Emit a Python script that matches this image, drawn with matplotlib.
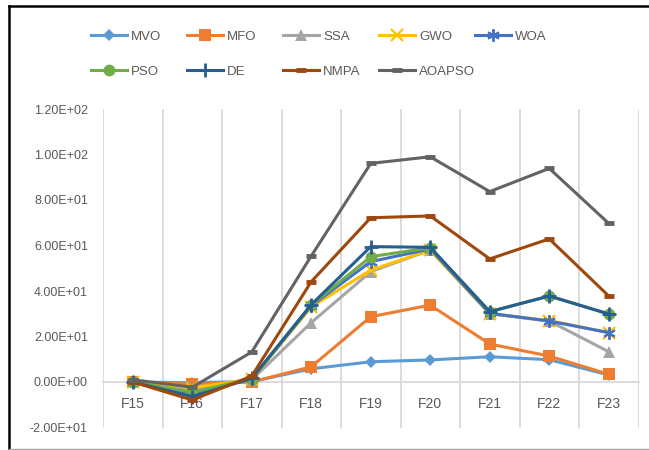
import matplotlib
matplotlib.use("Agg")
import matplotlib.pyplot as plt
from matplotlib.lines import Line2D
from matplotlib.ticker import FuncFormatter
import numpy as np

plt.rcParams['font.family'] = ['Liberation Sans', 'DejaVu Sans']

categories = ['F15', 'F16', 'F17', 'F18', 'F19', 'F20', 'F21', 'F22', 'F23']

MVO = [0.0, -0.3, 0.2, 5.8, 8.9, 9.7, 11.1, 9.8, 3.1]
MFO = [0.0, -1.0, 0.0, 6.7, 28.7, 33.8, 16.7, 11.4, 3.4]
SSA = [0.0, -3.0, 1.0, 26.1, 48.5, 58.0, 30.0, 26.8, 13.3]
GWO = [0.0, -2.5, 1.2, 33.0, 49.2, 58.0, 30.0, 27.0, 21.7]
WOA = [0.0, -5.0, 1.4, 33.5, 52.9, 58.5, 30.2, 26.8, 21.7]
PSO = [0.0, -4.5, 1.5, 33.8, 55.1, 59.0, 30.9, 37.8, 29.9]
DE = [0.0, -6.4, 1.6, 34.0, 59.5, 59.2, 30.9, 37.8, 29.9]
NMPA = [0.0, -7.9, 2.6, 44.1, 72.2, 73.0, 54.1, 62.9, 37.8]
AOAPSO = [1.0, -2.3, 13.2, 55.4, 96.1, 99.0, 83.7, 93.9, 69.7]

series = [('MVO', MVO), ('MFO', MFO), ('SSA', SSA), ('GWO', GWO), ('WOA', WOA),
          ('PSO', PSO), ('DE', DE), ('NMPA', NMPA), ('AOAPSO', AOAPSO)]

# office-style colours and markers per series
styles = {
    'MVO':    dict(color='#5B9BD5', marker='D', ms=6.5, mew=0),
    'MFO':    dict(color='#ED7D31', marker='s', ms=8.5, mew=0),
    'SSA':    dict(color='#A5A5A5', marker='^', ms=9, mew=0),
    'GWO':    dict(color='#FFC000', marker='x', ms=8, mew=1.6),
    'WOA':    dict(color='#4472C4', marker=(6, 2, 0), ms=9, mew=1.4),
    'PSO':    dict(color='#70AD47', marker='o', ms=8.5, mew=0),
    'DE':     dict(color='#255E91', marker='+', ms=10, mew=2),
    'NMPA':   dict(color='#9E480E', marker='_', ms=7, mew=3.5),
    'AOAPSO': dict(color='#636363', marker='_', ms=7, mew=3.5),
}

W, H = 649, 450
fig = plt.figure(figsize=(W / 100, H / 100), dpi=100)
ax = fig.add_axes([103 / W, 1 - 427.5 / H, (638.5 - 103) / W, (427.5 - 109) / H])

x = np.arange(len(categories))
lines = []
for name, vals in series:
    st = styles[name]
    ln, = ax.plot(x, vals, color=st['color'], lw=2.2, marker=st['marker'],
                  ms=st['ms'], mew=st['mew'], mec=st['color'], mfc=st['color'],
                  label=name, solid_joinstyle='miter')
    lines.append(ln)

ax.set_xlim(-0.5, len(categories) - 0.5)
ax.set_ylim(-20, 120)
ax.set_yticks(np.arange(-20, 121, 20))
ax.yaxis.set_major_formatter(FuncFormatter(lambda v, p: f"{v:.2E}"))
ax.set_xticks(x)
ax.set_xticklabels(categories)
ax.set_xticks(np.arange(-0.5, len(categories), 1), minor=True)
ax.grid(which='minor', axis='x', color='#D9D9D9', lw=1.3)
ax.set_axisbelow(True)

for s in ['top', 'right', 'left']:
    ax.spines[s].set_visible(False)
ax.spines['bottom'].set_position(('data', 0))
ax.spines['bottom'].set_color('#D9D9D9')
ax.spines['bottom'].set_linewidth(1.3)
ax.spines['bottom'].set_zorder(0.5)

ax.tick_params(which='both', length=0)
ax.tick_params(axis='y', pad=10.8, labelsize=9, labelcolor='#595959')
ax.tick_params(axis='x', pad=11, labelsize=10, labelcolor='#595959')

# legend entries laid out on a fixed 5-column grid
for i, ln in enumerate(lines):
    row, col = divmod(i, 5)
    lx = 91 + 96 * col
    ly = 37 + 35 * row
    fig.legend(handles=[ln], loc='center left', bbox_to_anchor=(lx / W, 1 - ly / H),
               frameon=False, borderpad=0, borderaxespad=0, handlelength=2.75,
               handletextpad=0.3, fontsize=9.5, labelcolor='#595959')

# outer frame
fig.add_artist(Line2D([9 / W, 9 / W], [1 - 6 / H, 1 - 449 / H], transform=fig.transFigure,
                      color='black', lw=1.8))
fig.add_artist(Line2D([9 / W, 1], [1 - 6 / H, 1 - 6 / H], transform=fig.transFigure,
                      color='black', lw=1.8))
fig.add_artist(Line2D([9 / W, 1], [1 - 449 / H, 1 - 449 / H], transform=fig.transFigure,
                      color='#A6A6A6', lw=1))

fig.savefig('out.png', dpi=100)
